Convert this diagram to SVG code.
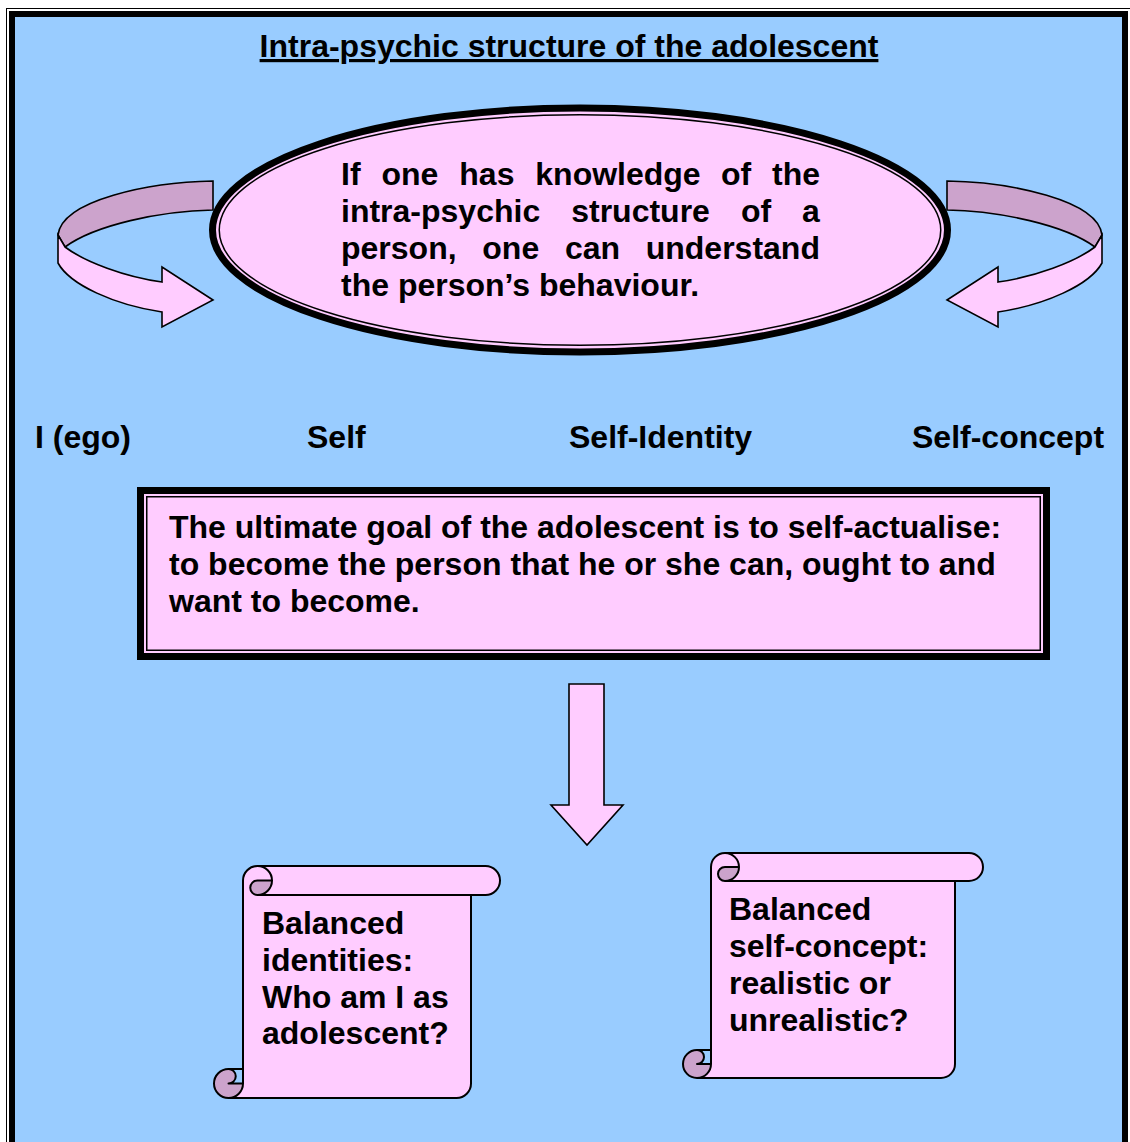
<svg xmlns="http://www.w3.org/2000/svg" xmlns:xlink="http://www.w3.org/1999/xlink" width="1130" height="1142" viewBox="0 0 1130 1142">
<style>
.t{font-family:"Liberation Sans",Arial,sans-serif;font-weight:bold;font-size:32px;fill:#000}
.pink{fill:#FFCCFF;stroke:none}
.dark{fill:#CCA3CC;stroke:none}
.ol{fill:none;stroke:#000;stroke-width:2;stroke-linejoin:round}
.arr{stroke:#000;stroke-width:1.6;stroke-linejoin:miter}
</style>
<defs>
<g id="curl">
<path class="arr" fill="#CCA3CC" d="M213,181 C150,182 62,200 58,235 L65,247 C95,225 160,211 213,210 Z"/>
<path class="arr" fill="#FFCCFF" d="M58,235 L58,263 C70,285 115,305 162,312 L162,327 L213,300 L162,267 L162,282 C125,277 85,262 65,247 Z"/>
</g>
</defs>
<rect x="0" y="0" width="1130" height="1142" fill="#FFFFFF"/>
<rect x="6.5" y="8.5" width="1140" height="1150" fill="none" stroke="#000" stroke-width="1"/>
<rect x="12" y="14" width="1113" height="1140" fill="#99CCFF" stroke="#000" stroke-width="6"/>
<g id="title">
<text class="t" x="569" y="57" text-anchor="middle" text-decoration="underline">Intra-psychic structure of the adolescent</text>
</g>
<g id="connectors">
<use id="arrow-left" xlink:href="#curl"/>
<use id="arrow-right" xlink:href="#curl" transform="translate(1160,0) scale(-1,1)"/>
<path id="arrow-down" class="arr" fill="#FFCCFF" d="M569,684 L604,684 L604,805 L623,805 L587,845 L551,805 L569,805 Z"/>
</g>
<g id="ellipse-node">
<ellipse cx="580" cy="230" rx="367.5" ry="122" fill="#FFCCFF" stroke="#000" stroke-width="7"/>
<ellipse cx="580" cy="230" rx="360.75" ry="115.25" fill="none" stroke="#000" stroke-width="1.5"/>
<text class="t" y="185"><tspan x="341">If</tspan><tspan x="381.5">one</tspan><tspan x="459.3">has</tspan><tspan x="535.3">knowledge</tspan><tspan x="720.9">of</tspan><tspan x="772">the</tspan></text>
<text class="t" y="222"><tspan x="341">intra-psychic</tspan><tspan x="571.2">structure</tspan><tspan x="740.9">of</tspan><tspan x="802.1">a</tspan></text>
<text class="t" y="259"><tspan x="341">person,</tspan><tspan x="482.3">one</tspan><tspan x="564.9">can</tspan><tspan x="645.7">understand</tspan></text>
<text class="t" x="341" y="296">the person’s behaviour.</text>
</g>
<g id="label-ego"><text class="t" x="35" y="448">I (ego)</text></g>
<g id="label-self"><text class="t" x="307" y="448">Self</text></g>
<g id="label-identity"><text class="t" x="569" y="448">Self-Identity</text></g>
<g id="label-concept"><text class="t" x="912" y="448">Self-concept</text></g>
<g id="goal-box">
<rect x="140.5" y="490.5" width="906" height="166" fill="#FFCCFF" stroke="#000" stroke-width="7"/>
<rect x="146.75" y="496.75" width="893.5" height="153.5" fill="none" stroke="#000" stroke-width="1.5"/>
<text class="t" x="169" y="538">The ultimate goal of the adolescent is to self-actualise:</text>
<text class="t" x="169" y="575">to become the person that he or she can, ought to and</text>
<text class="t" x="169" y="612">want to become.</text>
</g>
<g id="scroll-identities">
<path class="pink" d="M228.5,1098 A14.5,14.5 0 0 0 243,1083.5 L243,880.5 A14.5,14.5 0 0 1 257.5,866 L485.5,866 A14.5,14.5 0 0 1 485.5,895 L471,895 L471,1083.5 A14.5,14.5 0 0 1 456.5,1098 Z"/>
<path class="dark" d="M272,880.5 A14.5,14.5 0 0 1 257.5,895 A7.25,7.25 0 0 1 257.5,880.5 Z M243,1083.5 A14.5,14.5 0 1 1 228.5,1069 A7.25,7.25 0 0 1 228.5,1083.5 Z"/>
<path class="ol" d="M243,1069 L243,880.5 A14.5,14.5 0 0 1 257.5,866 L485.5,866 A14.5,14.5 0 0 1 485.5,895 L471,895 L471,1083.5 A14.5,14.5 0 0 1 456.5,1098 L228.5,1098 A14.5,14.5 0 0 1 228.5,1069 Z M257.5,866 A14.5,14.5 0 0 1 257.5,895 A7.25,7.25 0 0 1 257.5,880.5 L272,880.5 M471,895 L257.5,895 M228.5,1069 A7.25,7.25 0 0 1 228.5,1083.5 L243,1083.5 M228.5,1098 A14.5,14.5 0 0 0 243,1083.5 L243,1069"/>
<text class="t" x="262" y="934">Balanced</text>
<text class="t" x="262" y="971">identities:</text>
<text class="t" x="262" y="1008">Who am I as</text>
<text class="t" x="262" y="1044">adolescent?</text>
</g>
<g id="scroll-concept">
<path class="pink" d="M697,1078 A14,14 0 0 0 711,1064 L711,867 A14,14 0 0 1 725,853 L969,853 A14,14 0 0 1 969,881 L955,881 L955,1064 A14,14 0 0 1 941,1078 Z"/>
<path class="dark" d="M739,867 A14,14 0 0 1 725,881 A7,7 0 0 1 725,867 Z M711,1064 A14,14 0 1 1 697,1050 A7,7 0 0 1 697,1064 Z"/>
<path class="ol" d="M711,1050 L711,867 A14,14 0 0 1 725,853 L969,853 A14,14 0 0 1 969,881 L955,881 L955,1064 A14,14 0 0 1 941,1078 L697,1078 A14,14 0 0 1 697,1050 Z M725,853 A14,14 0 0 1 725,881 A7,7 0 0 1 725,867 L739,867 M955,881 L725,881 M697,1050 A7,7 0 0 1 697,1064 L711,1064 M697,1078 A14,14 0 0 0 711,1064 L711,1050"/>
<text class="t" x="729" y="920">Balanced</text>
<text class="t" x="729" y="957">self-concept:</text>
<text class="t" x="729" y="994">realistic or</text>
<text class="t" x="729" y="1031">unrealistic?</text>
</g>
</svg>
